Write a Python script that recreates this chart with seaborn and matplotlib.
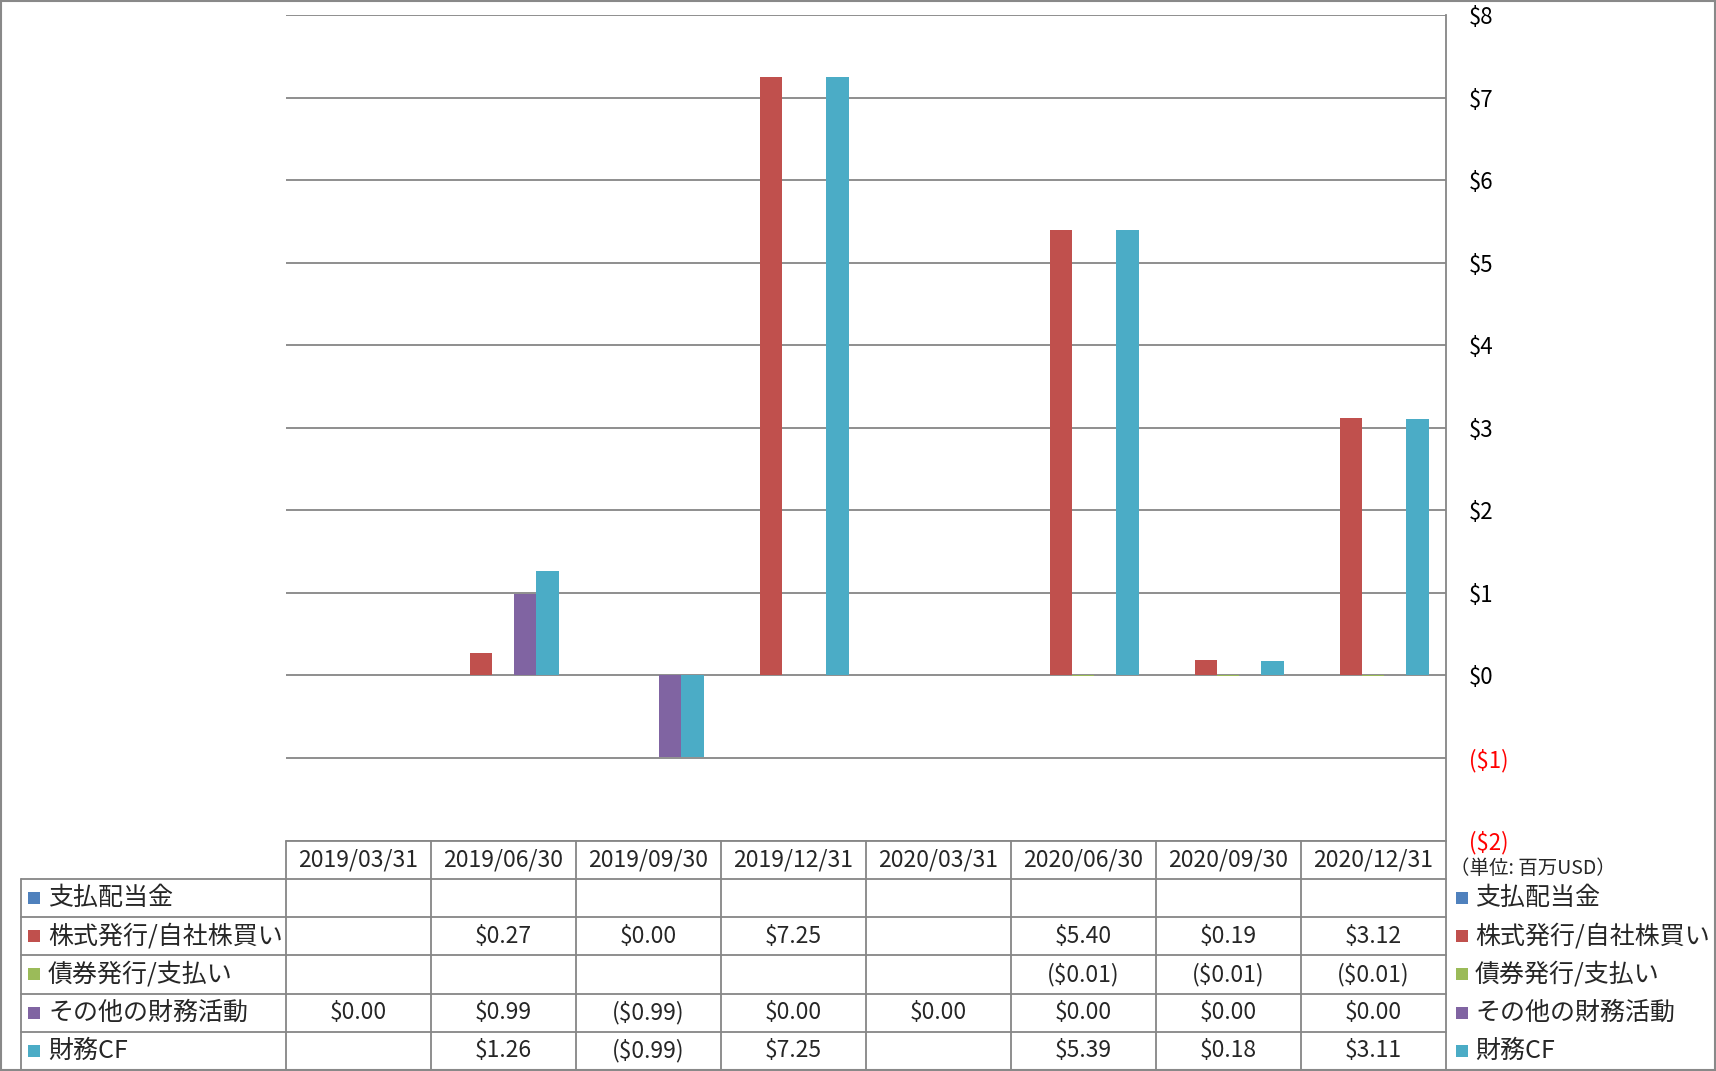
import numpy as np
import pandas as pd
import matplotlib
matplotlib.use('Agg')
import matplotlib.pyplot as plt
import seaborn as sns
from matplotlib.patches import Rectangle

nan = np.nan
dates = ['2019/03/31', '2019/06/30', '2019/09/30', '2019/12/31',
         '2020/03/31', '2020/06/30', '2020/09/30', '2020/12/31']
series = ['支払配当金', '株式発行/自社株買い', '債券発行/支払い', 'その他の財務活動', '財務CF']
dividends = [nan, nan, nan, nan, nan, nan, nan, nan]
stock_issue = [nan, 0.27, 0.00, 7.25, nan, 5.40, 0.19, 3.12]
debt_issue = [nan, nan, nan, nan, nan, -0.01, -0.01, -0.01]
other_fin = [0.00, 0.99, -0.99, 0.00, 0.00, 0.00, 0.00, 0.00]
fin_cf = [nan, 1.26, -0.99, 7.25, nan, 5.39, 0.18, 3.11]
colors = ['#4F81BD', '#C0504D', '#9BBB59', '#8064A2', '#4BACC6']
yticks = list(range(-2, 9))
unit_label = '（単位: 百万USD）'

values = [dividends, stock_issue, debt_issue, other_fin, fin_cf]
rows = []
for s, vals in zip(series, values):
    for d, v in zip(dates, vals):
        rows.append({'date': d, 'series': s, 'value': v})
df = pd.DataFrame(rows)

sns.set_theme(style='white')
plt.rcParams['font.family'] = ['Noto Sans CJK JP', 'DejaVu Sans']

W, H = 1716, 1071
fig = plt.figure(figsize=(W / 100, H / 100), dpi=100)
fig.patch.set_facecolor('white')


def fx(px):
    return px / W


def fy(py):
    return 1 - py / H


GRAY = '#868686'
PL, PR, PT, PB = 285.6, 1445.6, 15, 840.5
ax = fig.add_axes([fx(PL), fy(PB), fx(PR) - fx(PL), fy(PT) - fy(PB)])
sns.barplot(data=df, x='date', y='value', hue='series', order=dates,
            hue_order=series, palette=colors, width=0.766, saturation=1,
            errorbar=None, legend=False, ax=ax, linewidth=0, gap=0, zorder=2)
ax.set_xlim(-0.5, 7.5)
ax.set_ylim(-2, 8)
ax.set_yticks(yticks)
ax.yaxis.tick_right()


def money(v, dec=0):
    s = f'${abs(v):.{dec}f}'
    return f'({s})' if v < 0 else s


ax.set_yticklabels([money(t) for t in yticks])
for lab, t in zip(ax.get_yticklabels(), yticks):
    lab.set_color('#FF0000' if t < 0 else 'black')
    lab.set_horizontalalignment('left')
ax.tick_params(axis='y', length=0, pad=17, labelsize=16)
ax.set_xticks([])
ax.set_xlabel('')
ax.set_ylabel('')
for t in yticks:
    ax.axhline(t, color=GRAY, lw=1.3, zorder=0.5)
for sp in ['left', 'top', 'bottom']:
    ax.spines[sp].set_visible(False)
ax.spines['right'].set_color(GRAY)
ax.spines['right'].set_linewidth(1.3)
ax.set_facecolor('none')

# data table
TL, TB = 21, 1070
tax = fig.add_axes([fx(TL), fy(TB), fx(PR) - fx(TL), fy(PB) - fy(TB)])
xmin = -0.5 - (PL - TL) / 145.0
tax.set_xlim(xmin, 7.5)
tax.set_ylim(6, 0)
tax.axis('off')
lk = dict(color=GRAY, lw=1.3, clip_on=False)
tax.plot([-0.5, 7.5], [0, 0], **lk)
for r in range(1, 7):
    tax.plot([xmin, 7.5], [r, r], **lk)
for k in range(9):
    tax.plot([-0.5 + k, -0.5 + k], [0, 6], **lk)
tax.plot([xmin, xmin], [1, 6], **lk)

for i, d in enumerate(dates):
    tax.text(i, 0.5, d, ha='center', va='center', fontsize=16.5)

sq_x = xmin + (33.5 - TL) / 145.0
tx_x = xmin + (48 - TL) / 145.0
lg_sq = 7.5 + (1462 - PR) / 145.0
lg_tx = 7.5 + (1475 - PR) / 145.0
for r, (s, vals, c) in enumerate(zip(series, values, colors)):
    yc = r + 1.5
    tax.plot([sq_x], [yc], marker='s', ms=9, color=c, mew=0, clip_on=False)
    tax.text(tx_x, yc, s, ha='left', va='center', fontsize=18)
    tax.plot([lg_sq], [yc], marker='s', ms=9, color=c, mew=0, clip_on=False)
    tax.text(lg_tx, yc, s, ha='left', va='center', fontsize=18, clip_on=False)
    for i, v in enumerate(vals):
        if not np.isnan(v):
            tax.text(i, yc, money(v, 2), ha='center', va='center', fontsize=16.5)

fig.text(fx(1450), fy(868), unit_label, ha='left', va='center', fontsize=14)

fig.patches.append(Rectangle((0.0005, 0.0008), 0.999, 0.9985, transform=fig.transFigure,
                             fill=False, edgecolor='#898989', lw=1.5))

fig.savefig('out.png', dpi=100)
